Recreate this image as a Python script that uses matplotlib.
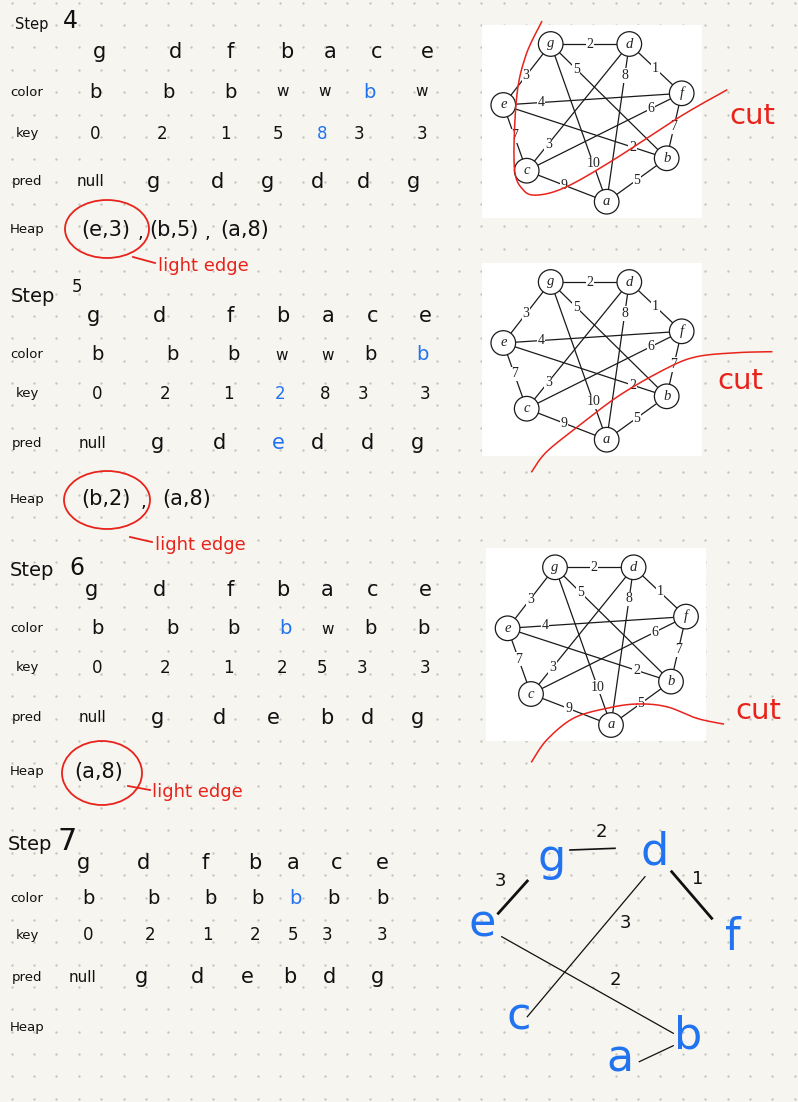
import numpy as np
import matplotlib
matplotlib.use("Agg")
import matplotlib.pyplot as plt
from matplotlib.patches import Circle, Ellipse, Rectangle

# ---------------- data ----------------
cols = ['g', 'd', 'f', 'b', 'a', 'c', 'e']
steps = ['4', '5', '6', '7']
color_rows = [
    ['b', 'b', 'b', 'w', 'w', 'b', 'w'],
    ['b', 'b', 'b', 'w', 'w', 'b', 'b'],
    ['b', 'b', 'b', 'b', 'w', 'b', 'b'],
    ['b', 'b', 'b', 'b', 'b', 'b', 'b'],
]
key_rows = [
    ['0', '2', '1', '5', '8', '3', '3'],
    ['0', '2', '1', '2', '8', '3', '3'],
    ['0', '2', '1', '2', '5', '3', '3'],
    ['0', '2', '1', '2', '5', '3', '3'],
]
pred_rows = [
    ['null', 'g', 'd', 'g', 'd', 'd', 'g'],
    ['null', 'g', 'd', 'e', 'd', 'd', 'g'],
    ['null', 'g', 'd', 'e', 'b', 'd', 'g'],
    ['null', 'g', 'd', 'e', 'b', 'd', 'g'],
]
# highlighted (blue) cells per step: (row, column)
blue_cells = [
    [('color', 5), ('key', 4)],
    [('color', 6), ('key', 3), ('pred', 3)],
    [('color', 3)],
    [('color', 4)],
]
heap_items = [
    ['(e,3)', '(b,5)', '(a,8)'],
    ['(b,2)', '(a,8)'],
    ['(a,8)'],
    [],
]
row_labels = ['color', 'key', 'pred', 'Heap']
note_light = 'light edge'
note_cut = 'cut'

graph_nodes = ['g', 'd', 'f', 'b', 'a', 'c', 'e']
graph_edges = [('g', 'd', '2'), ('d', 'f', '1'), ('g', 'e', '3'), ('g', 'b', '5'),
               ('g', 'a', '10'), ('d', 'a', '8'), ('d', 'c', '3'), ('e', 'f', '4'),
               ('e', 'b', '2'), ('e', 'c', '7'), ('c', 'f', '6'), ('f', 'b', '7'),
               ('c', 'a', '9'), ('a', 'b', '5')]
tree_nodes = ['g', 'd', 'f', 'e', 'c', 'b', 'a']
tree_edges = [('g', 'd', '2'), ('e', 'g', '3'), ('d', 'f', '1'),
              ('d', 'c', '3'), ('e', 'b', '2'), ('a', 'b', '')]

# ---------------- layout ----------------
BG = '#f7f5f0'
DOT = '#c6c4bf'
BLUE = '#2273f0'
RED = '#e8231c'
INK = '#111111'

hdr_x = [[100, 175, 230, 287, 330, 377, 427], [93, 160, 230, 283, 328, 373, 425],
         [92, 160, 230, 283, 327, 373, 425], [83, 143, 205, 255, 293, 337, 382]]
col_x = [[95, 168, 230, 283, 325, 369, 422], [97, 172, 233, 282, 328, 370, 422],
         [97, 172, 233, 285, 328, 370, 423], [88, 153, 210, 257, 295, 333, 382]]
key_x = [[95, 162, 225, 278, 322, 359, 422], [97, 165, 228, 280, 325, 363, 425],
         [97, 165, 228, 282, 322, 362, 425], [88, 150, 207, 255, 293, 327, 382]]
pred_x = [[90, 153, 217, 268, 317, 363, 413], [93, 157, 220, 278, 318, 367, 417],
          [92, 157, 220, 273, 327, 367, 417], [83, 142, 198, 247, 290, 330, 377]]
row_y = [[52, 92, 134, 182, 230], [316, 355, 394, 443, 499],
         [590, 629, 668, 718, 772], [863, 899, 935, 977, 1027]]
label_x = 27
step_pos = [((32, 25, 10.5), (70, 21, 17)), ((33, 296, 14), (77, 287, 12)),
            ((32, 570, 14), (77, 568, 17)), ((30, 845, 14), (67, 842, 22))]
heap_x = [[106, 174, 245], [106, 187], [99], []]
comma_x = [[140, 207], [143], [], []]
circle_geo = [(107, 229, 84, 58), (107, 500, 86, 58), (102, 773, 80, 64)]
light_pos = [(203, 266), (200, 545), (197, 792)]
tail = [((133, 257), (155, 263)), ((130, 537), (152, 542)), ((128, 786), (150, 790))]

node_xy = {'g': (550.7, 44), 'd': (629.3, 44), 'f': (681.7, 93.3), 'b': (666.7, 158.3),
           'a': (606.7, 201.7), 'c': (526.7, 170.7), 'e': (503.3, 105)}
edge_frac = [0.5, 0.5, 0.52, 0.22, 0.76, 0.2, 0.79, 0.21, 0.79, 0.47, 0.8, 0.51, 0.47, 0.5]
graph_off = [(0, 0), (0, 238), (4.3, 523.3)]
box = (482, 25, 220, 193)
cut_pts = [
    [(541.7, 21.7), (526, 55), (516.7, 96.7), (514.3, 166.7), (523.3, 190), (538.3, 195),
     (566.7, 186.7), (613.3, 160), (680, 116.7), (726.7, 90)],
    [(531.7, 471.7), (546.7, 451.7), (580, 425), (620, 395), (666.7, 368.3),
     (696.7, 356.7), (736.7, 352.7), (771.7, 351.7)],
    [(531.7, 761.7), (546.7, 740), (573.3, 718.3), (606.7, 708.3), (636.7, 704),
     (666.7, 706.7), (696.7, 718.3), (723.3, 724)],
]
cut_text = [(752, 116), (740, 381), (758, 711)]

tree_xy = {'g': (551.7, 858), 'd': (655, 852), 'f': (733.3, 938), 'e': (482, 924),
           'c': (518.3, 1017), 'b': (688.3, 1036), 'a': (620, 1059)}
tree_lines = [((570, 850), (615, 848.3)), ((498.3, 913.3), (527.3, 881)),
              ((671.7, 871.7), (711.7, 918.3)), ((645, 876.7), (527.3, 1016.7)),
              ((501.7, 936.7), (673.3, 1033.3)), ((639.3, 1061.7), (673.3, 1045.7))]
tree_lw = [1.2, 2.0, 2.0, 0.9, 0.9, 0.9]
tree_lab = [(601.7, 832), (500, 881), (698, 879), (625, 923), (615, 980), (0, 0)]

HAND = ['DejaVu Sans']
SERIF = ['Liberation Serif', 'DejaVu Serif']


def catmull(pts, n=20):
    p = np.array(pts, float)
    p = np.vstack([p[0], p, p[-1]])
    out = []
    for i in range(1, len(p) - 2):
        p0, p1, p2, p3 = p[i - 1], p[i], p[i + 1], p[i + 2]
        tt = np.linspace(0, 1, n)[:, None]
        out.append(0.5 * ((2 * p1) + (-p0 + p2) * tt + (2 * p0 - 5 * p1 + 4 * p2 - p3) * tt ** 2
                          + (-p0 + 3 * p1 - 3 * p2 + p3) * tt ** 3))
    return np.vstack(out)


fig = plt.figure(figsize=(7.98, 11.02), dpi=100)
fig.patch.set_facecolor(BG)
ax = fig.add_axes([0, 0, 1, 1])
ax.set_xlim(0, 798)
ax.set_ylim(1102, 0)
ax.axis('off')
ax.set_facecolor(BG)

# dot grid
gx = 11.7 + 22.37 * np.arange(36)
gy = 2.7 + 22.37 * np.arange(50)
GX, GY = np.meshgrid(gx, gy)
ax.scatter(GX.ravel(), GY.ravel(), s=3.0, c=DOT, linewidths=0, zorder=0)


def t(x, y, s, size, color=INK, **kw):
    ax.text(x, y, s, fontsize=size, color=color, ha='center', va='center',
            family=HAND, zorder=5, **kw)


# tables
for k in range(4):
    (sx, sy, ss), (nx, ny, ns) = step_pos[k]
    t(sx, sy, 'Step', ss)
    t(nx, ny, steps[k], ns)
    ry = row_y[k]
    for i, c in enumerate(cols):
        t(hdr_x[k][i], ry[0], c, 15)
    for j, lab in enumerate(row_labels):
        t(label_x, ry[j + 1], lab, 9.5)
    blues = blue_cells[k]
    for i in range(7):
        t(col_x[k][i], ry[1], color_rows[k][i],
          14 if color_rows[k][i] == 'b' else 11,
          BLUE if ('color', i) in blues else INK)
        t(key_x[k][i], ry[2], key_rows[k][i], 12,
          BLUE if ('key', i) in blues else INK)
        t(pred_x[k][i], ry[3], pred_rows[k][i],
          11 if pred_rows[k][i] == 'null' else 15,
          BLUE if ('pred', i) in blues else INK)
    for i, h in enumerate(heap_items[k]):
        t(heap_x[k][i], ry[4], h, 15)
    for cx in comma_x[k]:
        t(cx, ry[4] + 3, ',', 13)
    if k < 3:
        cx, cy, w, h = circle_geo[k]
        ax.add_patch(Ellipse((cx, cy), w, h, fill=False, ec=RED, lw=1.3, zorder=6))
        (x0, y0), (x1, y1) = tail[k]
        ax.plot([x0, x1], [y0, y1], color=RED, lw=1.3, zorder=6)
        t(light_pos[k][0], light_pos[k][1], note_light, 13, RED)

# graph images
for gi, (ox, oy) in enumerate(graph_off):
    ax.add_patch(Rectangle((box[0] + ox, box[1] + oy), box[2], box[3],
                           fc='white', ec='none', zorder=1))
    pos = {n: (node_xy[n][0] + ox, node_xy[n][1] + oy) for n in graph_nodes}
    for (u, v, w), fr in zip(graph_edges, edge_frac):
        (x0, y0), (x1, y1) = pos[u], pos[v]
        ax.plot([x0, x1], [y0, y1], color='#1a1a1a', lw=0.9, zorder=2)
        lx, ly = x0 + fr * (x1 - x0), y0 + fr * (y1 - y0)
        ax.text(lx, ly, w, fontsize=10, family=SERIF, color='#222222', ha='center',
                va='center', zorder=3,
                bbox=dict(boxstyle='square,pad=0.05', fc='white', ec='none'))
    for n in graph_nodes:
        ax.add_patch(Circle(pos[n], 12.3, fc='white', ec='#1a1a1a', lw=0.9, zorder=4))
        ax.text(pos[n][0], pos[n][1], n, fontsize=10.5, family=SERIF, style='italic',
                color='#222222', ha='center', va='center', zorder=5)
    cp = catmull(cut_pts[gi])
    ax.plot(cp[:, 0], cp[:, 1], color=RED, lw=1.1, zorder=7)
    t(cut_text[gi][0], cut_text[gi][1], note_cut, 21, RED)

# final tree
for (p0, p1), lw, (u, v, w), lp in zip(tree_lines, tree_lw, tree_edges, tree_lab):
    ax.plot([p0[0], p1[0]], [p0[1], p1[1]], color=INK, lw=lw, zorder=4)
    if w:
        t(lp[0], lp[1], w, 13)
for n in tree_nodes:
    t(tree_xy[n][0], tree_xy[n][1], n, 32, BLUE)

fig.savefig('out.png', dpi=100, facecolor=BG)
